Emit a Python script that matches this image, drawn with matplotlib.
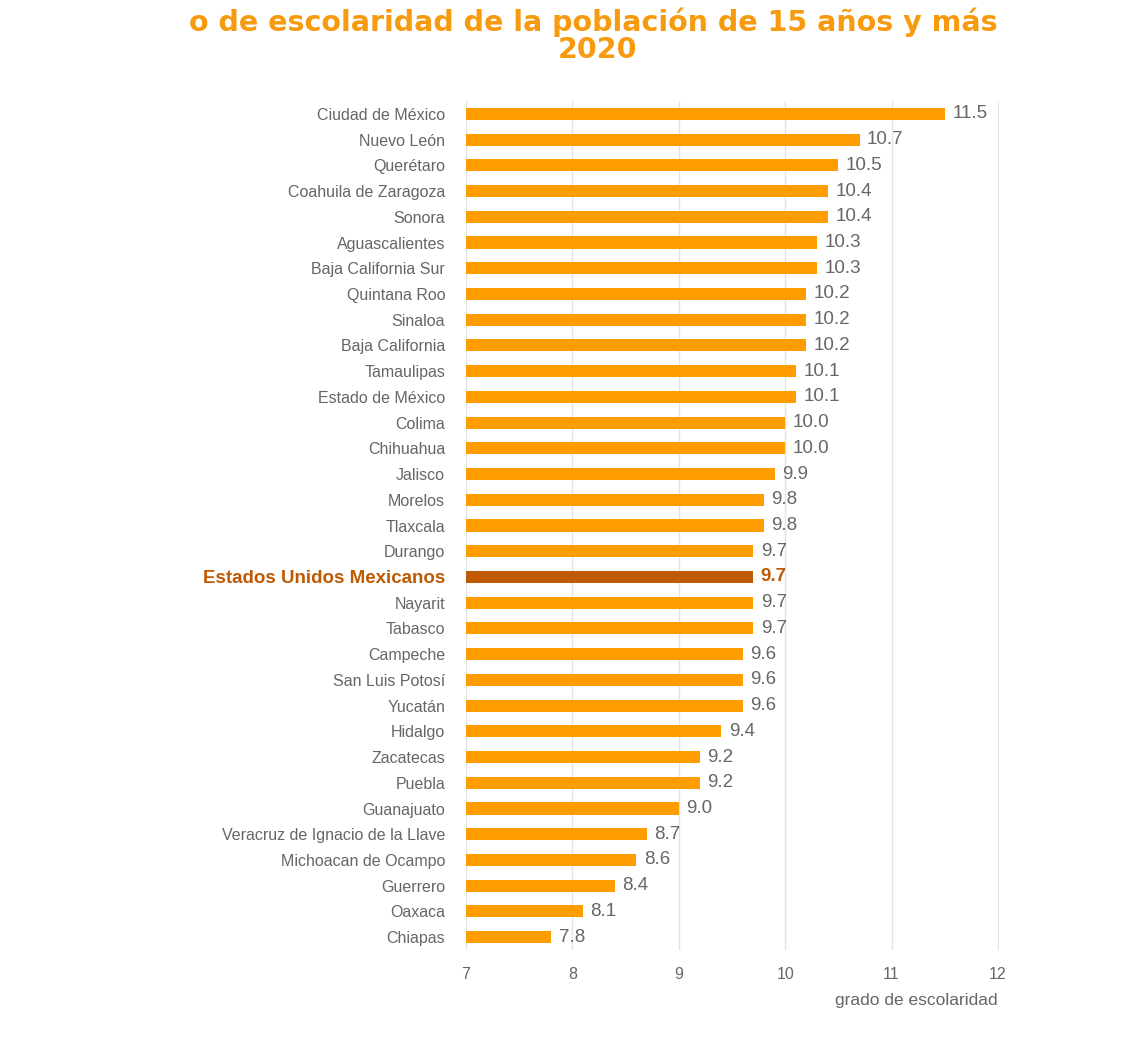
import matplotlib
matplotlib.use("Agg")
import matplotlib.pyplot as plt

states = ["Ciudad de México", "Nuevo León", "Querétaro", "Coahuila de Zaragoza", "Sonora",
          "Aguascalientes", "Baja California Sur", "Quintana Roo", "Sinaloa", "Baja California",
          "Tamaulipas", "Estado de México", "Colima", "Chihuahua", "Jalisco", "Morelos",
          "Tlaxcala", "Durango", "Estados Unidos Mexicanos", "Nayarit", "Tabasco", "Campeche",
          "San Luis Potosí", "Yucatán", "Hidalgo", "Zacatecas", "Puebla", "Guanajuato",
          "Veracruz de Ignacio de la Llave", "Michoacan de Ocampo", "Guerrero", "Oaxaca", "Chiapas"]
values = [11.5, 10.7, 10.5, 10.4, 10.4, 10.3, 10.3, 10.2, 10.2, 10.2, 10.1, 10.1, 10.0, 10.0,
          9.9, 9.8, 9.8, 9.7, 9.7, 9.7, 9.7, 9.6, 9.6, 9.6, 9.4, 9.2, 9.2, 9.0, 8.7, 8.6, 8.4,
          8.1, 7.8]
highlight = "Estados Unidos Mexicanos"
xticks = [7, 8, 9, 10, 11, 12]

ORANGE = "#FF9D00"
DARK = "#BF5A03"
GRAY = "#666666"
FONT = "Liberation Sans"

fig = plt.figure(figsize=(11.25, 10.46), dpi=100)
ax = fig.add_axes([466/1125, 1-950/1046, (999-466)/1125, (950-101)/1046])

ypos = list(range(len(states)))
colors = [DARK if s == highlight else ORANGE for s in states]
ax.barh(ypos, [v - 7 for v in values], left=7, height=0.47, color=colors, zorder=3)

for y, s, v in zip(ypos, states, values):
    hl = s == highlight
    ax.text(v + 0.07, y, f"{v:.1f}", va="center", ha="left",
            fontsize=13.5, family=FONT, color=DARK if hl else GRAY,
            fontweight="bold" if hl else "normal")

ax.set_ylim(len(states) - 0.5, -0.5)
ax.set_xlim(7, 12.01)
ax.set_yticks(ypos)
ax.set_yticklabels(states)
for lbl, s in zip(ax.get_yticklabels(), states):
    lbl.set_family(FONT)
    if s == highlight:
        lbl.set_color(DARK)
        lbl.set_fontweight("bold")
        lbl.set_fontsize(13.5)
    else:
        lbl.set_color(GRAY)
        lbl.set_fontsize(11.5)
ax.set_xticks(xticks)
ax.set_xticklabels([str(t) for t in xticks], family=FONT, fontsize=11.5, color=GRAY)
ax.tick_params(axis="y", length=0, pad=15)
ax.tick_params(axis="x", length=0, pad=12)
ax.grid(axis="x", color="#E3E3E3", linewidth=1, zorder=0)
for sp in ax.spines.values():
    sp.set_visible(False)

fig.text(998/1125, 1-1001/1046, "grado de escolaridad", ha="right", va="center",
         family=FONT, fontsize=12.5, color=GRAY)

TITLE_C = "#F79A0E"
fig.text(593/1125, 1-22/1046, "o de escolaridad de la población de 15 años y más",
         ha="center", va="center", fontsize=20.5, fontweight="bold", color=TITLE_C,
         family="DejaVu Sans")
fig.text(598/1125, 1-50/1046, "2020", ha="center", va="center", fontsize=20.5,
         fontweight="bold", color=TITLE_C, family="DejaVu Sans")

fig.savefig("out.png", dpi=100, facecolor="white")
